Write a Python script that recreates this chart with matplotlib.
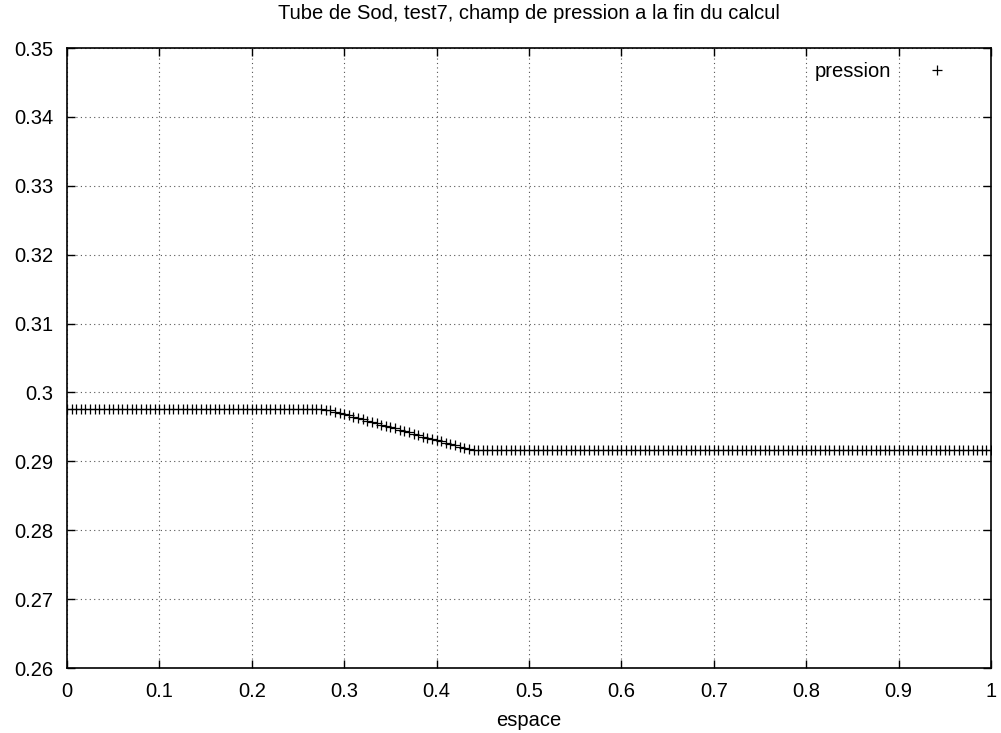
import numpy as np
import matplotlib
matplotlib.use("Agg")
import matplotlib.pyplot as plt

plt.rcParams['font.family'] = ['Liberation Sans', 'DejaVu Sans']

# pression values, x = 0 .. 1 step 0.005
p_left = [0.2976] * 54            # x = 0.000 .. 0.265
p_wave = [0.2976, 0.2976, 0.2975, 0.2974, 0.2972, 0.2970, 0.2969, 0.2967,
          0.2965, 0.2963, 0.2961, 0.2959, 0.2957, 0.2955, 0.2953, 0.2951,
          0.2950, 0.2948, 0.2946, 0.2944, 0.2942, 0.2940, 0.2938, 0.2936,
          0.2934, 0.2932, 0.2931, 0.2929, 0.2927, 0.2925, 0.2923, 0.2921,
          0.2919, 0.2918, 0.2917]   # x = 0.270 .. 0.440
p_right = [0.2917] * 112          # x = 0.445 .. 1.000
pression = p_left + p_wave + p_right
espace = np.linspace(0, 1, len(pression))

x_ticks = [0, 0.1, 0.2, 0.3, 0.4, 0.5, 0.6, 0.7, 0.8, 0.9, 1]
x_labels = ["0", "0.1", "0.2", "0.3", "0.4", "0.5", "0.6", "0.7", "0.8", "0.9", "1"]
y_ticks = [0.26, 0.27, 0.28, 0.29, 0.3, 0.31, 0.32, 0.33, 0.34, 0.35]
y_labels = ["0.26", "0.27", "0.28", "0.29", "0.3", "0.31", "0.32", "0.33", "0.34", "0.35"]

fs = 14.5

fig = plt.figure(figsize=(10.01, 7.33), dpi=100)
ax = fig.add_axes([67 / 1001, 65 / 733, 924 / 1001, 620 / 733])

ax.plot(espace, pression, linestyle='none', marker='+', color='black',
        markersize=7, markeredgewidth=0.9, label='pression')

ax.set_xlim(0, 1)
ax.set_ylim(0.26, 0.35)
ax.set_xticks(x_ticks)
ax.set_xticklabels(x_labels)
ax.set_yticks(y_ticks)
ax.set_yticklabels(y_labels)
ax.tick_params(direction='in', length=6, width=1, top=True, right=True,
               labelsize=fs, pad=10)
ax.grid(True, linestyle=(0, (1, 3)), color='#555555', linewidth=0.8)
for s in ax.spines.values():
    s.set_linewidth(1.2)

ax.set_xlabel('espace', fontsize=fs, labelpad=7)
ax.set_title('Tube de Sod, test7, champ de pression a la fin du calcul',
             fontsize=fs, pad=21)

ax.legend(loc='upper right', frameon=False, markerfirst=False, fontsize=fs,
          handletextpad=1.3, borderpad=0, borderaxespad=0,
          bbox_to_anchor=(0.9635, 0.978))

fig.savefig('out.png', dpi=100)
